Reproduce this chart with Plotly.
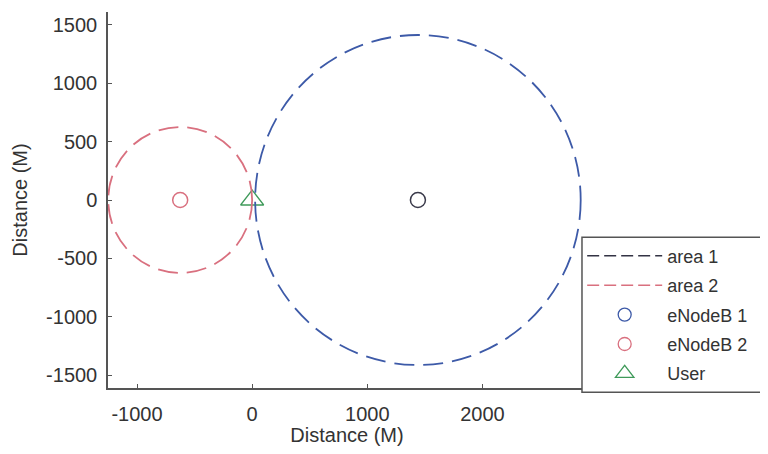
import plotly.graph_objects as go

# Data
area_names = ["area 1", "area 2"]
area_cx = [1440, -625]
area_cy = [0, 0]
area_r = [1414, 625]
area_colors = ["#3d5aa8", "#d9707f"]

node_names = ["eNodeB 1", "eNodeB 2"]
node_x = [1440, -625]
node_y = [0, 0]
node_colors = ["#3a3a4a", "#d9707f"]
node_legend_colors = ["#3d5aa8", "#d9707f"]

user_x = [0]
user_y = [0]

x_ticks = [-1000, 0, 1000, 2000]
x_ticktext = ["-1000", "0", "1000", "2000"]
y_ticks = [-1500, -1000, -500, 0, 500, 1000, 1500]
y_ticktext = ["-1500", "-1000", "-500", "0", "500", "1000", "1500"]

FONT = "Liberation Sans"
TXT = "#333333"

fig = go.Figure()

# circles as shapes in data coordinates
for cx, cy, r, c in zip(area_cx, area_cy, area_r, area_colors):
    fig.add_shape(type="circle", xref="x", yref="y",
                  x0=cx - r, x1=cx + r, y0=cy - r, y1=cy + r,
                  line=dict(color=c, width=1.8, dash="20px,9px"),
                  layer="above")

# legend box (extends beyond the right edge of the figure, as in the reference)
fig.add_shape(type="rect", xref="paper", yref="paper",
              x0=0.9916, x1=1.6, y0=-0.011, y1=0.401,
              line=dict(color="#555555", width=1.5), fillcolor="white",
              layer="above")

# legend entries for areas
leg_line_colors = ["#333344", "#d9707f"]
for i, (n, c) in enumerate(zip(area_names, leg_line_colors)):
    fig.add_trace(go.Scatter(x=[None], y=[None], mode="lines", name=n,
                             legendgroup=f"g{i}",
                             line=dict(color=c, width=1.5, dash="12px,5px")))

for i, (n, x, y, c, lc) in enumerate(zip(node_names, node_x, node_y, node_colors, node_legend_colors)):
    fig.add_trace(go.Scatter(x=[x], y=[y], mode="markers", name=n,
                             legendgroup=f"n{i}", showlegend=False,
                             marker=dict(symbol="circle-open", size=15, color=c,
                                         line=dict(width=1.5, color=c))))
    fig.add_trace(go.Scatter(x=[None], y=[None], mode="markers", name=n,
                             legendgroup=f"n{i}",
                             marker=dict(symbol="circle-open", size=13, color=lc,
                                         line=dict(width=1.3, color=lc))))

fig.add_trace(go.Scatter(x=user_x, y=user_y, mode="markers", name="User",
                         legendgroup="u",
                         marker=dict(symbol="triangle-up-open", size=20, color="#3f9a5a",
                                     line=dict(width=1.3, color="#3f9a5a"))))

fig.update_layout(
    width=752, height=438,
    margin=dict(l=100, r=174, t=4, b=58, autoexpand=False),
    paper_bgcolor="white", plot_bgcolor="white",
    font=dict(family=FONT, size=20, color=TXT),
    showlegend=True,
    legend=dict(x=0.992, y=0.40, xanchor="left", yanchor="top",
                bgcolor="rgba(0,0,0,0)", borderwidth=0,
                font=dict(family=FONT, size=18, color=TXT),
                tracegroupgap=3, itemwidth=75,
                traceorder="grouped"),
)

fig.update_xaxes(range=[-1252, 2900], tickvals=x_ticks, ticktext=x_ticktext,
                 ticks="inside", ticklen=4, tickcolor="#555555",
                 showline=True, linecolor="#555555", linewidth=1.5,
                 showgrid=False, zeroline=False, automargin=False,
                 ticklabelstandoff=7,
                 title=dict(text="Distance (M)", standoff=6,
                            font=dict(family=FONT, size=20, color=TXT)),
                 tickfont=dict(family=FONT, size=20, color=TXT))
fig.update_yaxes(range=[-1611, 1611], tickvals=y_ticks, ticktext=y_ticktext,
                 ticks="inside", ticklen=4, tickcolor="#555555",
                 showline=True, linecolor="#555555", linewidth=1.5,
                 showgrid=False, zeroline=False, automargin=False,
                 ticklabelstandoff=5,
                 title=dict(text="Distance (M)", standoff=13,
                            font=dict(family=FONT, size=20, color=TXT)),
                 tickfont=dict(family=FONT, size=20, color=TXT))

fig.write_html("out.html")
